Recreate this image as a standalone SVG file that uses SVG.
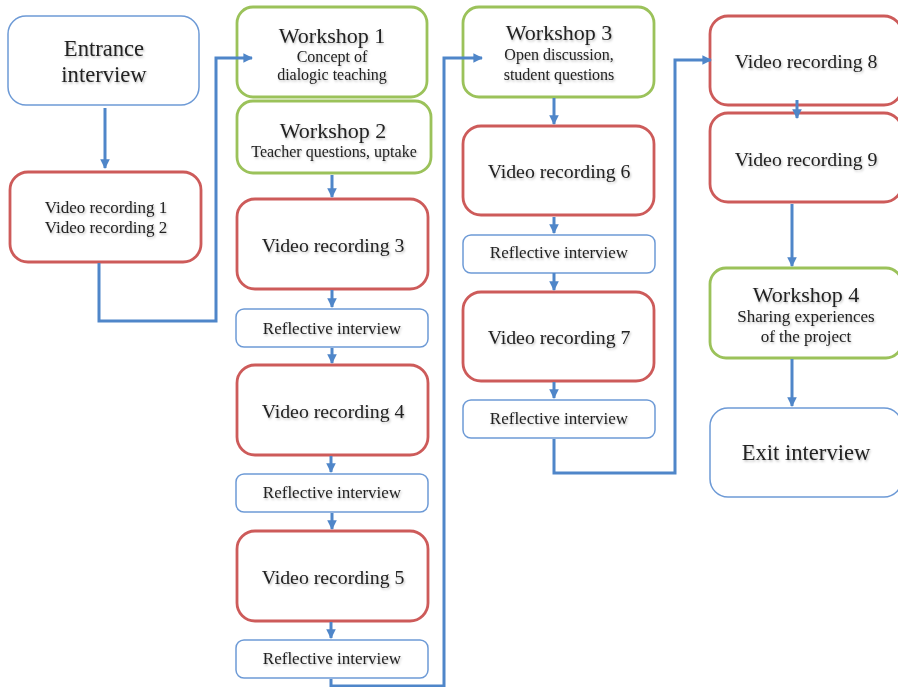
<svg xmlns="http://www.w3.org/2000/svg" width="898" height="687" viewBox="0 0 898 687">
<defs>
<filter id="sh" x="-10%" y="-30%" width="120%" height="160%"><feDropShadow dx="1" dy="1.5" stdDeviation="1" flood-color="#000" flood-opacity="0.25"/></filter>
<marker id="ah" viewBox="0 0 10 10" refX="9" refY="5" markerWidth="3.2" markerHeight="3.2" orient="auto" markerUnits="strokeWidth"><path d="M0,0 L10,5 L0,10 z" fill="#4f86c9"/></marker>
</defs>
<style>
.blue{fill:#fff;stroke:#6d9ad6;stroke-width:1.5}
.red{fill:#fff;stroke:#cd5b5a;stroke-width:2.8}
.green{fill:#fff;stroke:#9bc25a;stroke-width:2.8}
text{font-family:"Liberation Serif","Times New Roman",serif;fill:#222;text-anchor:middle;filter:url(#sh)}
.t22{font-size:22.6px}.t20{font-size:22px}.t19{font-size:19.8px}.t15{font-size:16px}.t16{font-size:17px}.t17{font-size:17px}
.c{fill:none;stroke:#4f86c9;stroke-width:3}
</style>
<g id="entrance"><rect class="blue" x="8" y="16" width="191" height="89" rx="18"/><text class="t22" x="104" y="56">Entrance</text><text class="t22" x="104" y="82">interview</text></g>
<g id="vr12"><rect class="red" x="10" y="172" width="191" height="90" rx="18"/><text class="t17" x="106" y="213">Video recording 1</text><text class="t17" x="106" y="233">Video recording 2</text></g>
<g id="ws1"><rect class="green" x="237" y="7" width="190" height="90" rx="16"/><text class="t20" x="332" y="43">Workshop 1</text><text class="t15" x="332" y="62">Concept of</text><text class="t15" x="332" y="80">dialogic teaching</text></g>
<g id="ws2"><rect class="green" x="237" y="101" width="194" height="72" rx="16"/><text class="t20" x="333" y="138">Workshop 2</text><text class="t15" x="334" y="157">Teacher questions, uptake</text></g>
<g id="vr3"><rect class="red" x="237" y="199" width="191" height="90" rx="18"/><text class="t19" x="333" y="252">Video recording 3</text></g>
<g id="ri1"><rect class="blue" x="236" y="309" width="192" height="38" rx="8"/><text class="t17" x="332" y="334">Reflective interview</text></g>
<g id="vr4"><rect class="red" x="237" y="365" width="191" height="90" rx="18"/><text class="t19" x="333" y="418">Video recording 4</text></g>
<g id="ri2"><rect class="blue" x="236" y="474" width="192" height="38" rx="8"/><text class="t17" x="332" y="498">Reflective interview</text></g>
<g id="vr5"><rect class="red" x="237" y="531" width="191" height="90" rx="18"/><text class="t19" x="333" y="584">Video recording 5</text></g>
<g id="ri3"><rect class="blue" x="236" y="640" width="192" height="38" rx="8"/><text class="t17" x="332" y="664">Reflective interview</text></g>
<g id="ws3"><rect class="green" x="463" y="7" width="191" height="90" rx="16"/><text class="t20" x="559" y="40">Workshop 3</text><text class="t15" x="559" y="60">Open discussion,</text><text class="t15" x="559" y="80">student questions</text></g>
<g id="vr6"><rect class="red" x="463" y="126" width="191" height="89" rx="18"/><text class="t19" x="559" y="178">Video recording 6</text></g>
<g id="ri4"><rect class="blue" x="463" y="235" width="192" height="38" rx="8"/><text class="t17" x="559" y="258">Reflective interview</text></g>
<g id="vr7"><rect class="red" x="463" y="292" width="191" height="89" rx="18"/><text class="t19" x="559" y="344">Video recording 7</text></g>
<g id="ri5"><rect class="blue" x="463" y="400" width="192" height="38" rx="8"/><text class="t17" x="559" y="424">Reflective interview</text></g>
<g id="vr8"><rect class="red" x="710" y="16" width="192" height="89" rx="18"/><text class="t19" x="806" y="68">Video recording 8</text></g>
<g id="vr9"><rect class="red" x="710" y="113" width="192" height="89" rx="18"/><text class="t19" x="806" y="166">Video recording 9</text></g>
<g id="ws4"><rect class="green" x="710" y="268" width="192" height="90" rx="16"/><text class="t20" x="806" y="302">Workshop 4</text><text class="t16" x="806" y="322">Sharing experiences</text><text class="t16" x="806" y="342">of the project</text></g>
<g id="exit"><rect class="blue" x="710" y="408" width="192" height="89" rx="18"/><text class="t22" x="806" y="460">Exit interview</text></g>
<g id="connectors">
<path class="c" d="M105,108 V168" marker-end="url(#ah)"/>
<path class="c" d="M99,263 V321 H216 V58 H252" marker-end="url(#ah)"/>
<path class="c" d="M332,175 V197" marker-end="url(#ah)"/>
<path class="c" d="M332,290 V307" marker-end="url(#ah)"/>
<path class="c" d="M332,348 V363" marker-end="url(#ah)"/>
<path class="c" d="M331,456 V472" marker-end="url(#ah)"/>
<path class="c" d="M332,513 V529" marker-end="url(#ah)"/>
<path class="c" d="M331,622 V638" marker-end="url(#ah)"/>
<path class="c" d="M331,679 V686 H444 V58 H482" marker-end="url(#ah)"/>
<path class="c" d="M554,98 V124" marker-end="url(#ah)"/>
<path class="c" d="M554,217 V233" marker-end="url(#ah)"/>
<path class="c" d="M554,273 V290" marker-end="url(#ah)"/>
<path class="c" d="M554,382 V398" marker-end="url(#ah)"/>
<path class="c" d="M554,439 V473 H675 V60 H711" marker-end="url(#ah)"/>
<path class="c" d="M797,100 V118" marker-end="url(#ah)"/>
<path class="c" d="M792,204 V266" marker-end="url(#ah)"/>
<path class="c" d="M792,359 V406" marker-end="url(#ah)"/>
</g>
</svg>
